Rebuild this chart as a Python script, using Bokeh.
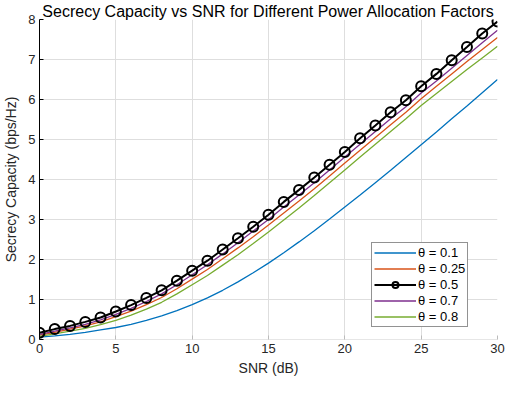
from bokeh.plotting import figure
from bokeh.models import Legend, LegendItem, Range1d, FixedTicker
from bokeh.embed import file_html
from bokeh.resources import INLINE

snr = list(range(0, 31))
title_text = "Secrecy Capacity vs SNR for Different Power Allocation Factors"
theta_labels = ["θ = 0.1", "θ = 0.25", "θ = 0.5", "θ = 0.7", "θ = 0.8"]

sc_01 = [0.06, 0.09, 0.13, 0.18, 0.24, 0.30, 0.38, 0.48, 0.59, 0.72, 0.87, 1.04, 1.23,
         1.44, 1.67, 1.91, 2.17, 2.44, 2.72, 3.01, 3.31, 3.61, 3.92, 4.23, 4.55, 4.87,
         5.19, 5.52, 5.84, 6.17, 6.50]
sc_025 = [0.11, 0.18, 0.26, 0.34, 0.44, 0.57, 0.71, 0.87, 1.05, 1.27, 1.51, 1.75, 2.02,
          2.29, 2.57, 2.86, 3.16, 3.46, 3.77, 4.09, 4.41, 4.73, 5.05, 5.37, 5.68, 6.02,
          6.33, 6.64, 6.95, 7.25, 7.55]
sc_05 = [0.17, 0.26, 0.34, 0.44, 0.55, 0.70, 0.86, 1.04, 1.23, 1.47, 1.72, 1.97, 2.25,
         2.53, 2.82, 3.12, 3.44, 3.74, 4.05, 4.37, 4.69, 5.03, 5.35, 5.68, 5.98, 6.33,
         6.64, 6.98, 7.31, 7.65, 7.95]
sc_07 = [0.13, 0.21, 0.29, 0.38, 0.49, 0.63, 0.78, 0.95, 1.14, 1.37, 1.62, 1.87, 2.14,
         2.42, 2.71, 3.00, 3.31, 3.61, 3.92, 4.24, 4.56, 4.88, 5.20, 5.52, 5.82, 6.16,
         6.46, 6.78, 7.10, 7.42, 7.73]
sc_08 = [0.08, 0.14, 0.21, 0.28, 0.37, 0.48, 0.61, 0.76, 0.93, 1.14, 1.37, 1.60, 1.86,
         2.12, 2.40, 2.69, 2.99, 3.29, 3.60, 3.92, 4.24, 4.56, 4.88, 5.20, 5.52, 5.85,
         6.15, 6.45, 6.75, 7.04, 7.33]

x_ticks = [0, 5, 10, 15, 20, 25, 30]
y_ticks = [0, 1, 2, 3, 4, 5, 6, 7, 8]

FONT = "Liberation Sans"

p = figure(width=508, height=412, output_backend="svg", toolbar_location=None,
           x_range=Range1d(0, 30), y_range=Range1d(0, 8),
           min_border_left=39, min_border_right=11, min_border_top=0,
           min_border_bottom=73, title=title_text)
p.outline_line_color = None
p.title.text_font = FONT
p.title.text_font_size = "16px"
p.title.text_font_style = "normal"
p.title.text_color = "black"
p.title.align = "center"
p.title.standoff = 0
p.title.offset = 14
p.title.text_line_height = 0.85

p.xaxis.ticker = FixedTicker(ticks=x_ticks)
p.yaxis.ticker = FixedTicker(ticks=y_ticks)
p.xaxis.axis_label = "SNR (dB)"
p.yaxis.axis_label = "Secrecy Capacity (bps/Hz)"
for ax in (p.xaxis[0], p.yaxis[0]):
    ax.axis_label_text_font = FONT
    ax.axis_label_text_font_size = "14px"
    ax.axis_label_text_font_style = "normal"
    ax.axis_label_text_color = "#262626"
    ax.major_label_text_font = FONT
    ax.major_label_text_font_size = "13px"
    ax.major_label_text_color = "#262626"
    ax.minor_tick_line_color = None
    ax.major_tick_in = 4
    ax.major_tick_out = 0
    ax.major_label_standoff = 4
p.xaxis.axis_label_standoff = 4
p.yaxis.axis_label_standoff = 6
p.xaxis.axis_line_color = "#e6e6e6"
p.xaxis.major_tick_line_color = "#bbbbbb"
p.yaxis.axis_line_color = "black"
p.yaxis.major_tick_line_color = "black"

p.grid.grid_line_color = "#dedede"
p.grid.grid_line_width = 1

r1 = p.line(snr, sc_01, line_color="#0072BD", line_width=1.3)
r2 = p.line(snr, sc_025, line_color="#D95319", line_width=1.3)
r4 = p.line(snr, sc_07, line_color="#7E2F8E", line_width=1.3)
r5 = p.line(snr, sc_08, line_color="#77AC30", line_width=1.3)
r3 = p.line(snr, sc_05, line_color="black", line_width=2)
r3m = p.scatter(snr, sc_05, marker="circle", size=10, line_color="black",
                line_width=2, fill_color=None)

legend = Legend(items=[
    LegendItem(label=theta_labels[0], renderers=[r1]),
    LegendItem(label=theta_labels[1], renderers=[r2]),
    LegendItem(label=theta_labels[2], renderers=[r3, r3m]),
    LegendItem(label=theta_labels[3], renderers=[r4]),
    LegendItem(label=theta_labels[4], renderers=[r5]),
], location=(332, 12))
legend.label_text_font = FONT
legend.label_text_font_size = "13px"
legend.label_text_color = "black"
legend.glyph_width = 42
legend.glyph_height = 15
legend.label_height = 15
legend.label_standoff = 2
legend.spacing = 1
legend.padding = 2
legend.margin = 0
legend.border_line_color = "#262626"
legend.border_line_width = 1
legend.background_fill_alpha = 1
p.add_layout(legend, "center")

open("out.html", "w").write(file_html(p, INLINE))
